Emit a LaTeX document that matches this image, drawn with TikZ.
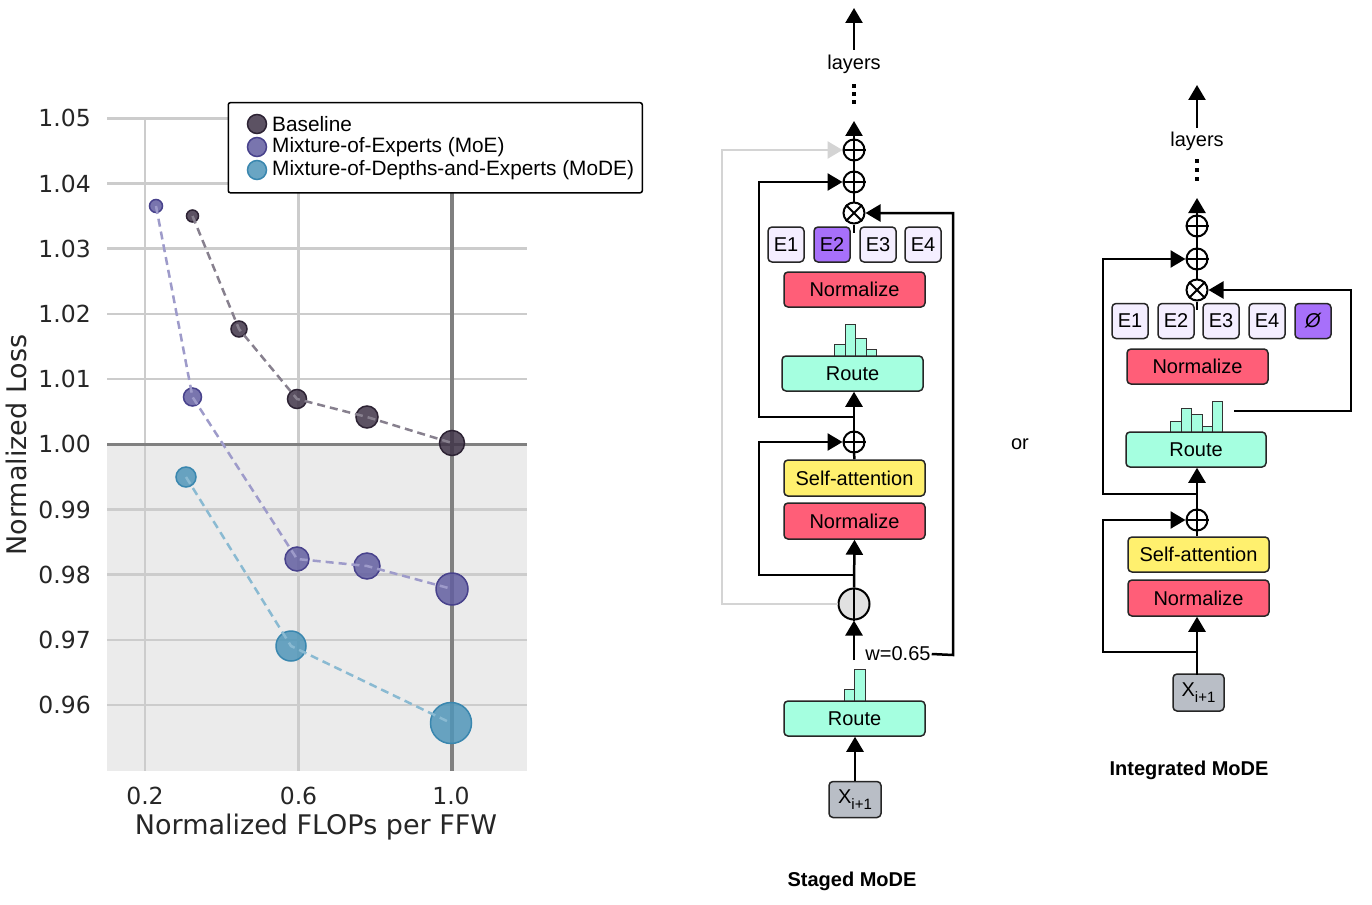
\documentclass[tikz,border=0pt]{standalone}
\usepackage{fontspec}
\setmainfont{Liberation Sans}
\newfontfamily\plotfont{DejaVu Sans}
\usetikzlibrary{arrows.meta}
\definecolor{txtc}{RGB}{38,38,38}
\definecolor{gridc}{RGB}{204,204,204}
\definecolor{axdark}{RGB}{128,128,128}
\definecolor{plotbg}{RGB}{235,235,235}
\definecolor{basec}{RGB}{64,52,72}
\definecolor{basee}{RGB}{45,35,52}
\definecolor{based}{RGB}{135,128,142}
\definecolor{moec}{RGB}{98,94,160}
\definecolor{moee}{RGB}{72,66,140}
\definecolor{moed}{RGB}{158,155,202}
\definecolor{modec}{RGB}{80,150,185}
\definecolor{modee}{RGB}{58,135,175}
\definecolor{moded}{RGB}{138,186,210}
\definecolor{normred}{RGB}{255,94,120}
\definecolor{sayel}{RGB}{255,240,110}
\definecolor{routet}{RGB}{165,255,224}
\definecolor{elight}{RGB}{244,238,255}
\definecolor{epurp}{RGB}{167,112,250}
\definecolor{xgray}{RGB}{185,190,198}
\definecolor{gcirc}{RGB}{225,225,225}
\definecolor{gloop}{RGB}{212,212,212}
\newcommand{\dfont}{\fontsize{20}{24}\selectfont}
\newcommand{\xsub}{X\raisebox{-0.3em}{\fontsize{15}{15}\selectfont i+1}}
\begin{document}
\begin{tikzpicture}[x=1pt,y=-1pt,
  tick/.style={font=\plotfont\fontsize{23.5}{26}\selectfont, text=txtc, inner sep=0},
  axlab/.style={font=\plotfont\fontsize{27}{30}\selectfont, text=txtc, inner sep=0},
  legtxt/.style={font=\fontsize{20.8}{22}\selectfont, anchor=west, inner sep=0},
  bpt/.style={circle, fill=basec, fill opacity=0.85, draw=basee, line width=1.5pt, inner sep=0, minimum size=#1},
  mpt/.style={circle, fill=moec, fill opacity=0.85, draw=moee, line width=1.5pt, inner sep=0, minimum size=#1},
  dpt/.style={circle, fill=modec, fill opacity=0.85, draw=modee, line width=1.5pt, inner sep=0, minimum size=#1},
  dashln/.style={line width=2.5pt, dash pattern=on 8pt off 5pt},
  box/.style={draw=black!85, line width=1.5pt, rounded corners=4pt, minimum width=141pt, minimum height=35pt, inner sep=0, font=\dfont},
  normbox/.style={box, fill=normred},
  sabox/.style={box, fill=sayel},
  routebox/.style={box, fill=routet},
  ebox/.style={box, fill=elight, minimum width=36pt, minimum height=35pt},
  epbox/.style={box, fill=epurp, minimum width=36pt, minimum height=35pt},
  xbox/.style={box, fill=xgray, minimum width=52pt, minimum height=36pt},
  opl/.style={circle, draw, line width=2pt, minimum size=21pt, inner sep=0},
  conn/.style={line width=2.5pt},
  arr/.style={line width=2.5pt, -{Triangle[length=15pt,width=17pt]}},
  grayarr/.style={line width=2.5pt, draw=gloop, -{Triangle[length=15pt,width=17pt]}},
  bar/.style={fill=routet, draw=black!80, line width=0.8pt},
  lbl/.style={font=\dfont, inner sep=1pt}
]
\useasboundingbox (0,0) rectangle (1372,904);
\fill[white] (0,0) rectangle (1372,904);

% ---------------- plot ----------------
\fill[plotbg] (107,444) rectangle (527,771);
\foreach \yy in {118.3,183.5,248.7,313.9,379.1,509.5,574.7,639.9,705.1}
  \draw[gridc, line width=2.5pt] (107,\yy) -- (527,\yy);
\draw[gridc, line width=2.5pt] (145,118.3) -- (145,771);
\draw[gridc, line width=2.5pt] (298.5,118.3) -- (298.5,771);
\draw[axdark, line width=3.5pt] (452,118.3) -- (452,771);
\draw[axdark, line width=3.5pt] (107,444.3) -- (527,444.3);

\node[tick, anchor=east] (y105) at (91,118.3) {1.05};
\node[tick, anchor=east] (y104) at (91,183.5) {1.04};
\node[tick, anchor=east] (y103) at (91,248.7) {1.03};
\node[tick, anchor=east] (y102) at (91,313.9) {1.02};
\node[tick, anchor=east] (y101) at (91,379.1) {1.01};
\node[tick, anchor=east] (y100) at (91,444.3) {1.00};
\node[tick, anchor=east] (y099) at (91,509.5) {0.99};
\node[tick, anchor=east] (y098) at (91,574.7) {0.98};
\node[tick, anchor=east] (y097) at (91,639.9) {0.97};
\node[tick, anchor=east] (y096) at (91,705.1) {0.96};
\node[tick] (x02) at (145,796) {0.2};
\node[tick] (x06) at (298.5,796) {0.6};
\node[tick] (x10) at (451,796) {1.0};
\node[axlab] (xlab) at (316,827) {Normalized FLOPs per FFW};
\node[axlab, rotate=90] (ylab) at (16,445) {Normalized Loss};

% data points
\node[bpt=12pt] (b1) at (192.5,216) {};
\node[bpt=16pt] (b2) at (239,329) {};
\node[bpt=19pt] (b3) at (297,399) {};
\node[bpt=22pt] (b4) at (367,417) {};
\node[bpt=25pt] (b5) at (452,443) {};
\node[mpt=13pt] (m1) at (156,206) {};
\node[mpt=18pt] (m2) at (192.5,397) {};
\node[mpt=24pt] (m3) at (297,559) {};
\node[mpt=26pt] (m4) at (367,566) {};
\node[mpt=32pt] (m5) at (452,589) {};
\node[dpt=20pt] (d1) at (186,477) {};
\node[dpt=30pt] (d2) at (291,646) {};
\node[dpt=41pt] (d3) at (451,723) {};
\draw[dashln, based] (b1.center) -- (b2.center) -- (b3.center) -- (b4.center) -- (b5.center);
\draw[dashln, moed] (m1.center) -- (m2.center) -- (m3.center) -- (m4.center) -- (m5.center);
\draw[dashln, moded] (d1.center) -- (d2.center) -- (d3.center);

% legend
\node[draw=black, fill=white, line width=1.5pt, rounded corners=2pt, minimum width=414pt, minimum height=90pt, anchor=north west, inner sep=0] (leg) at (227.5,102) {};
\node[bpt=19pt] (lb) at (257,124) {};
\node[mpt=19pt] (lm) at (257,147) {};
\node[dpt=19pt] (ld) at (257,170) {};
\node[legtxt] (lbt) at (272,124) {Baseline};
\node[legtxt] (lmt) at (272,147) {Mixture-of-Experts (MoE)};
\node[legtxt] (ldt) at (272,170) {Mixture-of-Depths-and-Experts (MoDE)};

% ---------------- Staged MoDE ----------------
\node[opl] (S1) at (854,150) {};
\node[opl] (S2) at (854,182) {};
\node[opl] (S3) at (854,213) {};
\foreach \n in {S1,S2} \draw[line width=2pt] (\n.north) -- (\n.south) (\n.west) -- (\n.east);
\draw[line width=2pt] (S3.north west) -- (S3.south east) (S3.north east) -- (S3.south west);
\node[ebox] (SE1) at (786,244.5) {E1};
\node[epbox] (SE2) at (832,244.5) {E2};
\node[ebox] (SE3) at (878,244.5) {E3};
\node[ebox] (SE4) at (923,244.5) {E4};
\node[normbox] (SN1) at (854.5,289.5) {Normalize};
\draw[bar] (834,356) rectangle (845,344);
\draw[bar] (845,356) rectangle (855,324);
\draw[bar] (855,356) rectangle (866,338);
\draw[bar] (866,356) rectangle (876,349);
\node[routebox] (SR1) at (852.5,373.5) {Route};
\node[opl] (S4) at (854,442) {};
\draw[line width=2pt] (S4.north) -- (S4.south) (S4.west) -- (S4.east);
\node[sabox, minimum height=36pt] (SSA) at (854.5,478) {Self-attention};
\node[normbox, minimum height=36pt] (SN2) at (854.5,521) {Normalize};
\node[circle, draw, fill=gcirc, line width=2pt, minimum size=31pt, inner sep=0] (G) at (854,604) {};
\draw[line width=2pt] (G.north) -- (G.south);
\draw[bar] (844,702) rectangle (854.5,689);
\draw[bar] (854.5,702) rectangle (865,669);
\node[routebox] (SR2) at (854.5,718.5) {Route};
\node[xbox] (SX) at (855,799.5) {\xsub};
\node[lbl] (wt) at (898,654) {w=0.65};
\node[lbl] (slay) at (854,64) {layers};
\node[font=\bfseries\dfont] (stitle) at (852,881) {Staged MoDE};
\foreach \yy in {86,94,102} \fill (852.3,\yy-1.7) rectangle (855.7,\yy+1.7);

\coordinate (sw) at (854,660);
\coordinate (sl2) at (854,575);
\coordinate (sl1) at (854,417);
\coordinate (st1) at (854,121);
\coordinate (sta) at (854,50);
\coordinate (stb) at (854,8);
\draw[arr] (SX.north) -- (SX.north |- SR2.south);
\draw[arr] (sw) -- (G.south);
\draw[arr] (G.north) -- (SN2.south);
\draw[conn] (SSA.north) -- (S4.south);
\draw[arr] (S4.north) -- (S4.north |- SR1.south);
\draw[arr] (sl2) -- (759,575) |- (S4.west);
\draw[arr] (sl1) -- (759,417) |- (S2.west);
\draw[grayarr] (G.west) -- (722,604) |- (S1.west);
\draw[arr] (wt.east) -- (953,655) |- (S3.east);
\draw[conn] (S3.south) -- ++(0,8);
\draw[conn] (S3.north) -- (S2.south);
\draw[conn] (S2.north) -- (S1.south);
\draw[arr] (S1.north) -- (st1);
\draw[arr] (sta) -- (stb);

\node[lbl] (ortxt) at (1020,444) {or};

% ---------------- Integrated MoDE ----------------
\node[opl] (I1) at (1197,226) {};
\node[opl] (I2) at (1197,259) {};
\node[opl] (I3) at (1197,290) {};
\foreach \n in {I1,I2} \draw[line width=2pt] (\n.north) -- (\n.south) (\n.west) -- (\n.east);
\draw[line width=2pt] (I3.north west) -- (I3.south east) (I3.north east) -- (I3.south west);
\node[ebox] (IE1) at (1130,321) {E1};
\node[ebox] (IE2) at (1176,321) {E2};
\node[ebox] (IE3) at (1221,321) {E3};
\node[ebox] (IE4) at (1267,321) {E4};
\node[epbox] (IE0) at (1313,321) {\itshape Ø};
\node[normbox] (IN1) at (1197.5,366.5) {Normalize};
\draw[bar] (1170,432) rectangle (1181,421);
\draw[bar] (1181,432) rectangle (1191,408);
\draw[bar] (1191,432) rectangle (1202,414);
\draw[bar] (1202,432) rectangle (1212,426);
\draw[bar] (1212,432) rectangle (1222,401);
\node[routebox, minimum width=140pt] (IR) at (1196,449.5) {Route};
\node[opl] (I4) at (1197,520) {};
\draw[line width=2pt] (I4.north) -- (I4.south) (I4.west) -- (I4.east);
\node[sabox] (ISA) at (1198.5,554.5) {Self-attention};
\node[normbox, minimum height=36pt] (IN2) at (1198.5,598) {Normalize};
\node[xbox, minimum width=51pt, minimum height=37pt] (IX) at (1198.5,692.5) {\xsub};
\node[lbl] (ilay) at (1197,141) {layers};
\node[font=\bfseries\dfont] (ititle) at (1189,770) {Integrated MoDE};
\foreach \yy in {161,170,179} \fill (1195.3,\yy-1.7) rectangle (1198.7,\yy+1.7);

\coordinate (il2) at (1197,652);
\coordinate (il1) at (1197,494);
\coordinate (ir0) at (1234,411);
\coordinate (it1) at (1197,198);
\coordinate (ita) at (1197,128);
\coordinate (itb) at (1197,85);
\coordinate (ixt) at (1197,674.5);
\draw[arr] (ixt) -- (ixt |- IN2.south);
\draw[arr] (il2) -- (1103,652) |- (I4.west);
\draw[conn] (ISA.north -| I4.south) -- (I4.south);
\draw[arr] (I4.north) -- (I4.north |- IR.south);
\draw[arr] (il1) -- (1103,494) |- (I2.west);
\draw[arr] (ir0) -- (1351,411) |- (I3.east);
\draw[conn] (I3.south) -- ++(0,8);
\draw[conn] (I3.north) -- (I2.south);
\draw[conn] (I2.north) -- (I1.south);
\draw[arr] (I1.north) -- (it1);
\draw[arr] (ita) -- (itb);
\end{tikzpicture}
\end{document}
